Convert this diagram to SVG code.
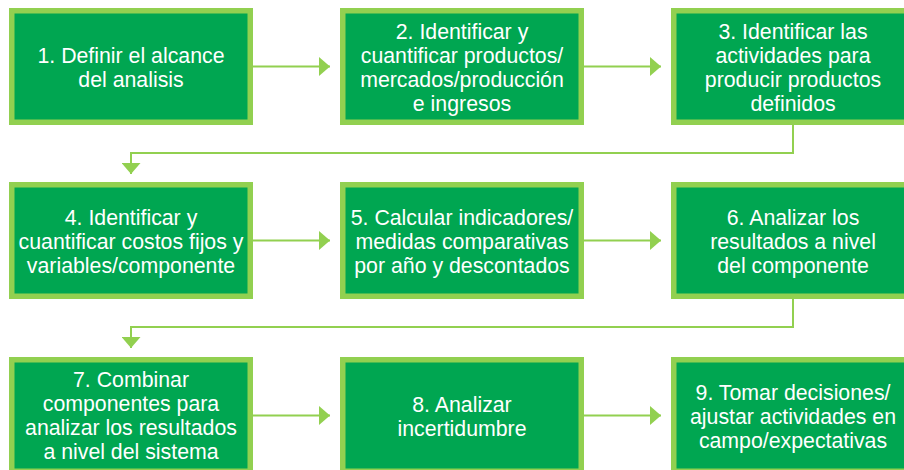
<svg xmlns="http://www.w3.org/2000/svg" width="904" height="470" viewBox="0 0 904 470">
<defs>
<style>
.box{fill:#00A651;stroke:#92D050;stroke-width:5.5}
.lbl{font-family:"Liberation Sans",Arial,sans-serif;font-size:21.3px;fill:#FFFFFF;text-anchor:middle}
.con{fill:none;stroke:#92D050;stroke-width:2}
</style>
<marker id="ah" markerWidth="11" markerHeight="19" refX="11" refY="9.5" orient="auto" markerUnits="userSpaceOnUse">
<path d="M0,0 L11,9.5 L0,19 Z" fill="#92D050"/>
</marker>
</defs>
<rect width="904" height="470" fill="#FFFFFF"/>
<g id="connectors">
<path class="con" d="M253,66.5 H330" marker-end="url(#ah)"/>
<path class="con" d="M584,66.5 H661" marker-end="url(#ah)"/>
<path class="con" d="M793,125 V153 H131 V174" marker-end="url(#ah)"/>
<path class="con" d="M253,240.5 H330" marker-end="url(#ah)"/>
<path class="con" d="M584,240.5 H661" marker-end="url(#ah)"/>
<path class="con" d="M793,299 V327 H131 V348" marker-end="url(#ah)"/>
<path class="con" d="M253,415.5 H330" marker-end="url(#ah)"/>
<path class="con" d="M584,415.5 H661" marker-end="url(#ah)"/>
</g>
<g id="n1">
<rect class="box" x="11.75" y="10.75" width="238.5" height="111.5"/>
<text class="lbl"><tspan x="131" y="63">1. Definir el alcance</tspan><tspan x="131" y="87">del analisis</tspan></text>
</g>
<g id="n2">
<rect class="box" x="342.75" y="10.75" width="238.5" height="111.5"/>
<text class="lbl"><tspan x="462" y="39">2. Identificar y</tspan><tspan x="462" y="63">cuantificar productos/</tspan><tspan x="462" y="87">mercados/producción</tspan><tspan x="462" y="111">e ingresos</tspan></text>
</g>
<g id="n3">
<rect class="box" x="673.75" y="10.75" width="238.5" height="111.5"/>
<text class="lbl"><tspan x="793" y="39">3. Identificar las</tspan><tspan x="793" y="63">actividades para</tspan><tspan x="793" y="87">producir productos</tspan><tspan x="793" y="111">definidos</tspan></text>
</g>
<g id="n4">
<rect class="box" x="11.75" y="184.75" width="238.5" height="111.5"/>
<text class="lbl"><tspan x="131" y="225">4. Identificar y</tspan><tspan x="131" y="249">cuantificar costos fijos y</tspan><tspan x="131" y="273">variables/componente</tspan></text>
</g>
<g id="n5">
<rect class="box" x="342.75" y="184.75" width="238.5" height="111.5"/>
<text class="lbl"><tspan x="462" y="225">5. Calcular indicadores/</tspan><tspan x="462" y="249">medidas comparativas</tspan><tspan x="462" y="273">por año y descontados</tspan></text>
</g>
<g id="n6">
<rect class="box" x="673.75" y="184.75" width="238.5" height="111.5"/>
<text class="lbl"><tspan x="793" y="225">6. Analizar los</tspan><tspan x="793" y="249">resultados a nivel</tspan><tspan x="793" y="273">del componente</tspan></text>
</g>
<g id="n7">
<rect class="box" x="11.75" y="359.75" width="238.5" height="111.5"/>
<text class="lbl"><tspan x="131" y="387">7. Combinar</tspan><tspan x="131" y="411">componentes para</tspan><tspan x="131" y="435">analizar los resultados</tspan><tspan x="131" y="459">a nivel del sistema</tspan></text>
</g>
<g id="n8">
<rect class="box" x="342.75" y="359.75" width="238.5" height="111.5"/>
<text class="lbl"><tspan x="462" y="412">8. Analizar</tspan><tspan x="462" y="436">incertidumbre</tspan></text>
</g>
<g id="n9">
<rect class="box" x="673.75" y="359.75" width="238.5" height="111.5"/>
<text class="lbl"><tspan x="793" y="400">9. Tomar decisiones/</tspan><tspan x="793" y="424">ajustar actividades en</tspan><tspan x="793" y="448">campo/expectativas</tspan></text>
</g>
</svg>
